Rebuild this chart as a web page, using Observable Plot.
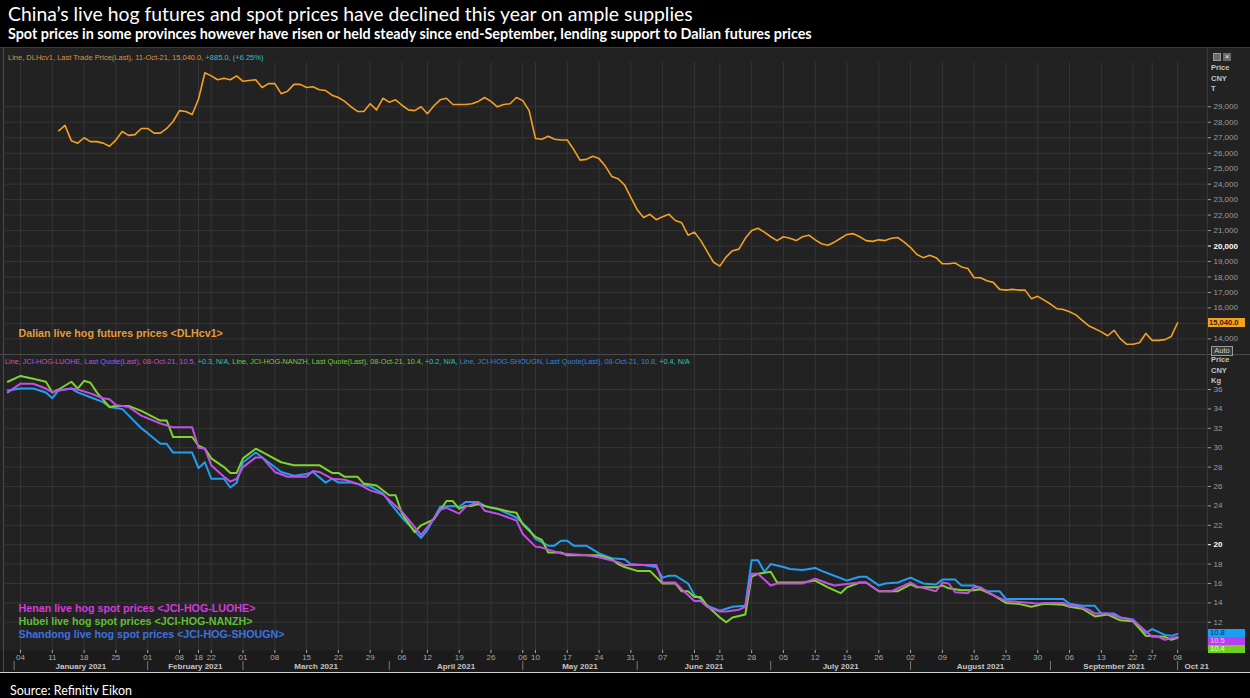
<!DOCTYPE html>
<html>
<head>
<meta charset="utf-8">
<script src="https://cdn.jsdelivr.net/npm/d3@7"></script>
<script src="https://cdn.jsdelivr.net/npm/@observablehq/plot@0.6"></script>
<style>
html,body{margin:0;padding:0;background:#000;}
body{width:1250px;height:698px;position:relative;overflow:hidden;font-family:"Liberation Sans",Arial,sans-serif;}
.abs{position:absolute;white-space:nowrap;}
#title{left:8px;top:3px;color:#fff;font-family:Lato,"Open Sans",sans-serif;font-size:18px;line-height:22px;}
#subtitle{left:8px;top:26px;color:#fff;font-family:Lato,"Open Sans",sans-serif;font-weight:bold;font-size:13px;line-height:16px;}
#source{left:10px;top:684px;color:#fff;font-family:Lato,"Open Sans",sans-serif;font-size:11.5px;line-height:14px;}
#chart{position:absolute;left:0;top:47px;width:1250px;height:626px;background:#222;border-top:1px solid #3c3c3c;box-sizing:border-box;}
#chart svg{position:absolute;left:0;}
.hdrline{white-space:nowrap;line-height:9px;}
.rlab{font-size:7.5px;color:#c4c4c4;font-weight:bold;line-height:10.5px;}
</style>
</head>
<body>
<div id="title" class="abs">China’s live hog futures and spot prices have declined this year on ample supplies</div>
<div id="subtitle" class="abs">Spot prices in some provinces however have risen or held steady since end-September, lending support to Dalian futures prices</div>
<div id="chart"></div>
<div id="source" class="abs">Source: Refinitiv Eikon</div>
<script>
// ---------------- DATA (x = trading-day index, 0 = 04 Jan 2021) ----------------
const tickDays   = [0,5,10,15,20,25,28,30,35,40,45,50,55,60,64,69,74,79,81,86,91,96,101,106,110,115,120,125,130,135,140,145,150,155,160,165,170,175,178,182];
const tickLabels = ["04","11","18","25","01","08","18","22","01","08","15","22","29","06","12","19","26","06","10","17","24","31","07","15","21","28","05","12","19","26","02","09","16","23","30","06","13","22","27","08"];
const monthStarts  = [-1,20,35,58,79,97,118,140,162,182];
const monthCenters = [9.5,27.5,46.5,68.5,88,107.5,129,151,172,185];
const monthLabels  = ["January 2021","February 2021","March 2021","April 2021","May 2021","June 2021","July 2021","August 2021","September 2021","Oct 21"];

const futuresTicks = [14000,15000,16000,17000,18000,19000,20000,21000,22000,23000,24000,25000,26000,27000,28000,29000];
const spotTicks    = [12,14,16,18,20,22,24,26,28,30,32,34,36];

// Dalian live hog futures, CNY/T
const dalianFutures = [[6,27450],[7,27800],[8,26800],[9,26650],[10,27000],[11,26750],[12,26750],[13,26650],[14,26450],[15,26850],[16,27400],[17,27150],[18,27200],[19,27600],[20,27600],[21,27300],[22,27300],[23,27600],[24,28050],[25,28750],[26,28700],[27,28500],[28,29500],[29,31200],[30,31000],[31,30750],[32,30850],[33,30750],[34,31000],[35,30650],[36,30700],[37,30750],[38,30250],[39,30500],[40,30500],[41,29850],[42,30000],[43,30450],[44,30450],[45,30250],[46,30300],[47,30100],[48,30050],[49,29750],[50,29600],[51,29350],[52,29000],[53,28700],[54,28700],[55,29200],[56,28800],[57,29550],[58,29300],[59,29450],[60,29100],[61,28800],[62,28750],[63,29000],[64,28550],[65,29050],[66,29450],[67,29550],[68,29150],[69,29150],[70,29150],[71,29200],[72,29350],[73,29600],[74,29350],[75,29000],[76,29150],[77,29200],[78,29600],[79,29400],[80,28750],[81,26950],[82,26900],[83,27100],[84,26900],[85,26850],[86,26850],[87,26250],[88,25550],[89,25600],[90,25800],[91,25650],[92,25150],[93,24500],[94,24350],[95,23950],[96,23150],[97,22350],[98,21850],[99,22050],[100,21700],[101,21900],[102,22050],[103,21650],[104,21500],[105,20700],[106,20900],[107,20350],[108,19650],[109,18950],[110,18700],[111,19300],[112,19700],[113,19800],[114,20500],[115,21000],[116,21150],[117,20900],[118,20600],[119,20350],[120,20600],[121,20500],[122,20350],[123,20600],[124,20700],[125,20400],[126,20150],[127,20050],[128,20250],[129,20500],[130,20750],[131,20800],[132,20600],[133,20350],[134,20300],[135,20400],[136,20350],[137,20500],[138,20550],[139,20250],[140,19900],[141,19450],[142,19250],[143,19400],[144,19250],[145,18850],[146,18850],[147,18900],[148,18650],[149,18550],[150,17950],[151,17950],[152,17750],[153,17650],[154,17200],[155,17150],[156,17200],[157,17150],[158,17150],[159,16600],[160,16750],[161,16500],[162,16250],[163,15950],[164,15900],[165,15750],[166,15550],[167,15200],[168,14850],[169,14650],[170,14450],[171,14200],[172,14550],[173,14000],[174,13650],[175,13650],[176,13750],[177,14350],[178,13900],[179,13900],[180,13950],[181,14155],[182,15040]];

// Spot prices, CNY/kg
const henanSpot = [[-2,35.7],[0,36.6],[2,36.6],[4,36.1],[5,35.7],[6,35.9],[8,36.1],[9,36.0],[11,35.6],[13,35.1],[14,35.0],[15,34.4],[17,34.2],[19,33.3],[22,32.5],[24,32.1],[27,32.1],[28,30.0],[29,29.9],[30,28.2],[32,27.0],[33,26.5],[34,26.8],[35,28.0],[37,29.0],[38,29.0],[40,27.5],[42,27.0],[45,27.0],[46,27.6],[47,27.5],[49,26.8],[51,26.7],[53,26.3],[55,25.6],[57,25.2],[60,23.4],[63,21.0],[64,21.8],[66,23.6],[67,23.8],[69,23.2],[70,23.9],[72,24.4],[73,23.5],[75,23.2],[78,22.5],[79,21.1],[81,19.8],[82,19.7],[85,19.1],[89,18.9],[91,18.7],[94,18.2],[95,17.9],[100,17.9],[101,16.1],[103,16.1],[104,15.4],[106,14.2],[107,14.2],[108,13.6],[110,13.1],[111,13.1],[113,13.3],[114,13.6],[115,17.0],[116,17.0],[118,15.8],[119,16.0],[123,16.0],[125,16.5],[127,16.0],[128,15.8],[132,16.1],[133,16.1],[135,15.2],[137,15.2],[139,15.8],[140,16.1],[141,15.7],[144,15.2],[145,16.1],[146,16.0],[147,15.1],[149,15.0],[150,15.6],[151,15.6],[153,14.8],[155,14.2],[157,14.1],[159,14.0],[160,13.9],[161,14.0],[164,14.0],[165,13.7],[166,13.7],[168,13.3],[169,12.9],[171,12.9],[173,12.5],[175,12.2],[178,10.5],[179,10.5],[180,10.2],[182,10.5]];
const hubeiSpot = [[-2,36.8],[0,37.4],[2,37.1],[4,36.8],[5,35.7],[6,36.0],[8,36.8],[9,36.1],[10,36.9],[11,36.7],[12,35.7],[14,34.2],[15,34.3],[17,34.3],[19,33.8],[22,32.8],[23,32.8],[24,31.1],[27,31.1],[28,30.2],[29,29.9],[30,28.9],[32,28.0],[33,27.4],[34,27.4],[35,28.9],[37,29.9],[39,29.2],[41,28.5],[43,28.2],[47,28.2],[49,27.4],[50,27.4],[51,27.0],[53,27.0],[54,26.3],[56,26.1],[58,25.1],[59,25.1],[60,23.2],[62,21.3],[63,22.0],[65,22.6],[67,24.5],[68,24.5],[69,23.7],[70,24.0],[71,24.0],[72,24.2],[74,23.8],[75,23.7],[77,23.4],[78,23.3],[79,22.1],[81,20.8],[82,20.5],[83,19.2],[85,19.2],[86,18.9],[89,18.9],[91,18.9],[93,18.5],[94,18.0],[95,17.7],[97,17.3],[99,17.3],[101,16.0],[103,16.0],[104,15.2],[105,15.2],[106,14.6],[107,14.6],[108,13.7],[110,12.5],[111,12.0],[112,12.5],[114,12.8],[115,16.7],[116,17.0],[117,17.1],[118,17.2],[119,16.1],[123,16.1],[125,16.3],[127,15.6],[129,15.0],[130,15.6],[132,16.1],[133,16.1],[135,15.2],[138,15.2],[140,15.9],[141,15.6],[144,15.6],[145,15.8],[146,15.5],[148,15.3],[150,15.3],[151,15.4],[153,14.8],[155,14.0],[157,13.9],[159,13.6],[161,13.9],[164,13.8],[165,13.6],[167,13.4],[169,12.6],[171,12.8],[173,12.2],[175,12.1],[177,10.6],[180,10.5],[181,10.2],[182,10.4]];
const shandongSpot = [[-2,35.9],[0,36.1],[2,36.1],[4,35.7],[5,35.1],[6,35.9],[8,36.1],[9,35.7],[11,35.2],[13,34.7],[14,34.2],[16,34.0],[19,32.0],[20,31.5],[22,30.4],[23,30.4],[24,29.5],[27,29.5],[28,27.9],[29,28.5],[30,26.8],[32,26.8],[33,25.9],[34,26.4],[35,28.5],[37,29.5],[39,28.5],[41,27.5],[43,27.1],[45,27.3],[46,27.5],[48,26.4],[49,26.8],[50,26.4],[52,26.4],[55,26.0],[57,25.3],[58,24.4],[60,22.8],[63,20.7],[64,21.5],[66,23.9],[68,24.0],[69,23.9],[70,24.4],[72,24.4],[73,24.0],[75,23.7],[78,22.8],[80,21.6],[81,20.6],[83,19.9],[84,19.9],[85,20.4],[86,20.4],[87,19.9],[89,19.9],[91,19.1],[93,18.6],[95,18.5],[96,18.0],[98,17.9],[100,17.7],[101,16.6],[102,16.8],[103,16.8],[105,16.0],[106,14.8],[107,14.4],[108,13.7],[110,13.2],[111,13.4],[112,13.6],[114,13.7],[115,18.4],[116,18.4],[117,17.2],[118,18.0],[120,17.7],[121,17.5],[123,17.4],[125,17.6],[126,17.3],[128,16.8],[130,16.3],[132,16.7],[133,16.7],[135,15.8],[136,16.0],[138,16.1],[140,16.6],[142,16.0],[144,15.9],[145,16.4],[147,16.4],[148,15.8],[150,15.8],[152,15.2],[154,15.2],[155,14.4],[164,14.4],[165,13.9],[167,13.7],[169,13.7],[170,12.9],[172,12.9],[173,12.5],[175,12.3],[177,10.9],[178,11.3],[180,10.7],[181,10.6],[182,10.8]];

const futuresLegend = "Dalian live hog futures prices <DLHcv1>";
const spotLegends = ["Henan live hog spot prices <JCI-HOG-LUOHE>","Hubei live hog spot prices <JCI-HOG-NANZH>","Shandong live hog spot prices <JCI-HOG-SHOUGN>"];

// ---------------- STYLE ----------------
const C = {orange:"#f3a024", henan:"#c24fe6", hubei:"#7fd32e", shandong:"#229ff0",
           legHenan:"#d53bd8", legHubei:"#5fbf34", legShandong:"#3c72e0", legFut:"#e49b3d",
           grid:"#353535", frame:"#222222", axisTxt:"#a3a3a3"};
const xDomain = [-2.36, 186.7];
const weekLabel = new Map(tickDays.map((d,i)=>[d,tickLabels[i]]));
const monthLabel = new Map(monthCenters.map((d,i)=>[d,monthLabels[i]]));
const legendColor = [C.legHenan, C.legHubei, C.legShandong];
const font = "'Liberation Sans', Arial, sans-serif";
const common = {
  width: 1250, marginLeft: 5, marginRight: 43,
  x: {type:"linear", domain: xDomain, axis: null},
  style: {background:"transparent", color: C.axisTxt, fontFamily: font, fontSize:"8px", overflow:"visible"}
};
const P = d => d[0], V = d => d[1];

const chartEl = document.getElementById("chart");
function addDiv(css, html) { const d = document.createElement("div"); d.style.cssText = "position:absolute;" + css; if (html!=null) d.innerHTML = html; chartEl.appendChild(d); return d; }

// background of the date strip (under the SVGs)
addDiv("left:0;top:602px;width:1250px;height:22px;background:#1b1b1b;");

// ---- top panel: futures ----
const topPlot = Plot.plot({
  ...common, height: 306, marginTop: 14, marginBottom: 0,
  y: {domain:[12989, 31863], axis: null},
  marks: [
    Plot.frame({fill: C.frame, stroke: null}),
    Plot.gridY(futuresTicks, {stroke: C.grid, strokeOpacity: 1}),
    Plot.gridX(tickDays, {stroke: C.grid, strokeOpacity: 1}),
    // 15,000 label sits under the last-value flag in the original, so only its tick is drawn
    Plot.axisY({ticks: futuresTicks.filter(d=>d!==20000 && d!==15000), anchor:"right", tickSize:3, tickPadding:3, tickFormat: d3.format(","), color:"#9c9c9c", fontSize: 8}),
    Plot.axisY({ticks: [20000], anchor:"right", tickSize:3, tickPadding:3, tickFormat: d3.format(","), color:"#ffffff", fontWeight:"bold", fontSize: 8}),
    Plot.line(dalianFutures, {x: P, y: V, stroke: C.orange, strokeWidth: 1.6}),
    Plot.text([futuresLegend], {frameAnchor:"bottom-left", dx: 13, dy: -18, textAnchor:"start", fill: C.legFut, fontWeight:"bold", fontSize: 10.7, text: d=>d})
  ]
});
topPlot.style.top = "0px";
chartEl.appendChild(topPlot);

// ---- bottom panel: spot ----
const botPlot = Plot.plot({
  ...common, height: 318, marginTop: 0, marginBottom: 22,
  y: {domain:[9.09, 39.61], axis: null},
  marks: [
    Plot.frame({fill: C.frame, stroke: null}),
    Plot.gridY(spotTicks, {stroke: C.grid, strokeOpacity: 1}),
    Plot.gridX(tickDays, {stroke: C.grid, strokeOpacity: 1}),
    Plot.axisY({ticks: spotTicks.filter(d=>d!==20), anchor:"right", tickSize:3, tickPadding:3, color:"#9c9c9c", fontSize: 8}),
    Plot.axisY({ticks: [20], anchor:"right", tickSize:3, tickPadding:3, color:"#ffffff", fontWeight:"bold", fontSize: 8}),
    Plot.line(shandongSpot, {x: P, y: V, stroke: C.shandong, strokeWidth: 2}),
    Plot.line(hubeiSpot, {x: P, y: V, stroke: C.hubei, strokeWidth: 2}),
    Plot.line(henanSpot, {x: P, y: V, stroke: C.henan, strokeWidth: 2}),
    ...spotLegends.map((s, i) => Plot.text([s], {frameAnchor:"bottom-left", dx: 13, dy: -39 + 13*i, textAnchor:"start", text: d=>d, fontWeight:"bold", fontSize: 10.7, fill: legendColor[i]})),
    Plot.axisX({ticks: tickDays, anchor:"bottom", tickSize:3, tickPadding:1, tickFormat: d => weekLabel.get(d), color:"#a8a8a8", fontSize: 8}),
    Plot.axisX({ticks: monthStarts, anchor:"bottom", tickSize:9, dy: 11, tickFormat: () => "", color:"#7a7a7a"}),
    Plot.axisX({ticks: monthCenters, anchor:"bottom", tickSize:0, tickPadding:13, tickFormat: d => monthLabel.get(d), color:"#c6c6c6", fontWeight:"bold", fontSize: 8})
  ]
});
botPlot.style.top = "306px";
chartEl.appendChild(botPlot);

// panel separators and borders
addDiv("left:0;top:306px;width:1250px;height:1px;background:#4a4a4a;");
addDiv("left:1207px;top:0;width:1px;height:602px;background:#383838;");
addDiv("left:3px;top:0;width:1px;height:624px;background:#4a4a4a;");
addDiv("left:0;top:624px;width:1250px;height:1px;background:#cfcfcf;");

// header lines
addDiv("left:8px;top:4.5px;font-size:7.5px;", `<div class="hdrline"><span style="color:#d7963a">Line, DLHcv1, Last Trade Price(Last), 11-Oct-21, 15,040.0, </span><span style="color:#22c3c3">+885.0, (+6.25%)</span></div>`);
addDiv("left:5px;top:308.5px;font-size:7.3px;",
  `<div class="hdrline"><span style="color:#c04ee0">Line, JCI-HOG-LUOHE, Last Quote(Last), 08-Oct-21, 10.5, </span><span style="color:#22c3c3">+0.3, N/A, </span>` +
  `<span style="color:#78c83a">Line, JCI-HOG-NANZH, Last Quote(Last), 08-Oct-21, 10.4, </span><span style="color:#22c3c3">+0.2, N/A, </span>` +
  `<span style="color:#2f86d6">Line, JCI-HOG-SHOUGN, Last Quote(Last), 08-Oct-21, 10.8, </span><span style="color:#22c3c3">+0.4, N/A</span></div>`);

// right column labels
addDiv("left:1211px;top:15px;", `<div class="rlab">Price<br>CNY<br>T</div>`);
addDiv("left:1211px;top:307px;", `<div class="rlab">Price<br>CNY<br>Kg</div>`);
addDiv("left:1211px;top:298px;width:22px;height:10px;border:1px solid #9a9a9a;background:#3a3a3a;color:#d0d0d0;font-size:7.5px;line-height:8px;text-align:center;box-sizing:border-box;", "Auto");
addDiv("left:1213px;top:5px;width:8px;height:8px;background:#6a6a6a;border:1px solid #999;box-sizing:border-box;");
addDiv("left:1223px;top:5px;width:8px;height:8px;background:#6a6a6a;color:#eee;font-size:8px;line-height:7px;text-align:center;box-sizing:border-box;", "×");

// value flags
const yTop = topPlot.scale("y");
const lastFut = dalianFutures[dalianFutures.length-1][1];
addDiv(`left:1208px;top:${yTop.apply(lastFut)-4.5}px;width:37px;height:9px;background:#f5a21f;color:#3a2200;font-size:7.6px;line-height:9px;font-weight:bold;padding-left:1px;box-sizing:border-box;`, d3.format(",.1f")(lastFut));
const yBot = botPlot.scale("y");
const flags = [
  {v: shandongSpot[shandongSpot.length-1][1], bg:"#1aa0f2", fg:"#0b2a66"},
  {v: henanSpot[henanSpot.length-1][1], bg:"#b83ff0", fg:"#ffc0ff"},
  {v: hubeiSpot[hubeiSpot.length-1][1], bg:"#6fd020", fg:"#e8ffd8"}
].sort((a,b)=>b.v-a.v);
let prev = -Infinity;
flags.forEach(f => {
  let y = 306 + yBot.apply(f.v) - 4;
  if (y < prev + 8) y = prev + 8;
  prev = y;
  addDiv(`left:1208px;top:${y}px;width:37px;height:8px;background:${f.bg};color:${f.fg};font-size:7.6px;line-height:8px;padding-left:2px;box-sizing:border-box;`, f.v.toFixed(1));
});

// fit title texts to their widths
function fit(id, w) { const el = document.getElementById(id); const cur = el.getBoundingClientRect().width; const fs = parseFloat(getComputedStyle(el).fontSize); el.style.fontSize = (fs * w / cur) + "px"; }
fit("title", 685); fit("subtitle", 804); fit("source", 122);
</script>
</body>
</html>
